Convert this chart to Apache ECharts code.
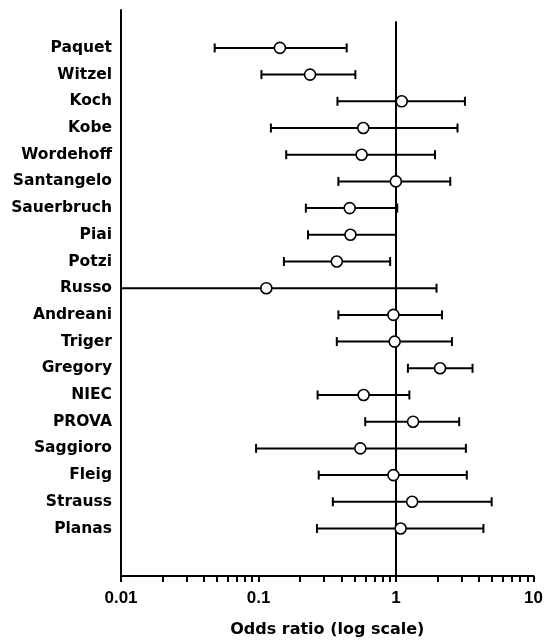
<!DOCTYPE html>
<html>
<head>
<meta charset="utf-8">
<script src="https://cdn.jsdelivr.net/npm/echarts@6/dist/echarts.min.js"></script>
<style>html,body{margin:0;padding:0;background:#fff}#c{width:546px;height:643px}</style>
</head>
<body>
<div id="c"></div>
<script>
var studies = ['Paquet','Witzel','Koch','Kobe','Wordehoff','Santangelo','Sauerbruch','Piai','Potzi','Russo','Andreani','Triger','Gregory','NIEC','PROVA','Saggioro','Fleig','Strauss','Planas'];
var oddsRatio = [0.143,0.237,1.10,0.578,0.562,0.997,0.460,0.466,0.371,0.114,0.957,0.977,2.09,0.581,1.33,0.550,0.957,1.31,1.08];
var ciLow     = [0.048,0.105,0.375,0.123,0.159,0.381,0.221,0.229,0.153,0.008,0.381,0.371,1.22,0.269,0.597,0.096,0.274,0.347,0.266];
var ciHigh    = [0.438,0.506,3.17,2.80,1.92,2.48,1.02,1.00,0.906,1.97,2.16,2.55,3.60,1.25,2.88,3.22,3.27,4.96,4.32];
var xTickLabels = ['0.01','0.1','1','10'];
var minorTickValues = [0.01,0.02,0.03,0.04,0.05,0.06,0.07,0.08,0.09,0.1,0.2,0.3,0.4,0.5,0.6,0.7,0.8,0.9,1,2,3,4,5,6,7,8,9,10];

var n = studies.length;
var yMin = -0.78, yMax = 20.42;
function rowY(i){ return n - i; }

var barData = studies.map(function(s,i){ return [ciLow[i], ciHigh[i], rowY(i)]; });
var pointData = studies.map(function(s,i){ return [oddsRatio[i], rowY(i)]; });
var rowVals = studies.map(function(s,i){ return rowY(i); });

var chart = echarts.init(document.getElementById('c'));
chart.setOption({
  animation: false,
  backgroundColor: '#fff',
  grid: { left: 121, right: 10, top: 10, bottom: 59 },
  xAxis: [{
    type: 'log', logBase: 10, min: 0.01, max: 10,
    position: 'bottom',
    name: 'Odds ratio (log scale)', nameLocation: 'middle', nameGap: 46,
    nameTextStyle: { fontFamily: 'DejaVu Sans', fontWeight: 'bold', fontSize: 16, color: '#000' },
    axisLine: { show: true, onZero: false, lineStyle: { color: '#000', width: 2 } },
    axisTick: { show: false },
    splitLine: { show: false },
    minorTick: { show: false },
    axisLabel: {
      margin: 14, color: '#000', fontFamily: 'Liberation Sans', fontWeight: 'bold', fontSize: 17,
      formatter: function(v){
        var k = Math.round(Math.log10(v)) + 2;
        return xTickLabels[k] !== undefined ? xTickLabels[k] : '';
      }
    }
  }, {
    type: 'value', min: -2, max: 1, position: 'bottom', show: true,
    axisLine: { show: false, onZero: false },
    axisLabel: { show: false },
    splitLine: { show: false },
    axisTick: {
      show: true, inside: false, length: 6,
      lineStyle: { color: '#000', width: 2 },
      customValues: minorTickValues.map(function(v){ return Math.log10(v); })
    }
  }],
  yAxis: {
    type: 'value', min: yMin, max: yMax,
    axisLine: { show: true, onZero: false, lineStyle: { color: '#000', width: 2 } },
    axisTick: { show: false },
    splitLine: { show: false },
    axisLabel: {
      customValues: rowVals,
      margin: 9, color: '#000', fontFamily: 'DejaVu Sans', fontWeight: 'bold', fontSize: 15.5,
      formatter: function(v){ var i = n - Math.round(v); return studies[i] || ''; }
    }
  },
  series: [{
    type: 'custom',
    xAxisIndex: 0,
    clip: true,
    data: barData,
    encode: { x: [0, 1], y: 2 },
    renderItem: function(params, api){
      var y = api.value(2);
      var p1 = api.coord([api.value(0), y]);
      var p2 = api.coord([api.value(1), y]);
      var h = 4.5;
      var st = { stroke: '#000', lineWidth: 2 };
      return { type: 'group', children: [
        { type: 'line', shape: { x1: p1[0], y1: p1[1], x2: p2[0], y2: p2[1] }, style: st },
        { type: 'line', shape: { x1: p1[0], y1: p1[1]-h, x2: p1[0], y2: p1[1]+h }, style: st },
        { type: 'line', shape: { x1: p2[0], y1: p2[1]-h, x2: p2[0], y2: p2[1]+h }, style: st }
      ]};
    },
    markLine: {
      silent: true, symbol: 'none', label: { show: false },
      lineStyle: { color: '#000', width: 2, type: 'solid' },
      data: [[{ coord: [1, 20] }, { coord: [1, yMin] }]]
    },
    z: 2
  }, {
    type: 'scatter',
    xAxisIndex: 0,
    data: pointData,
    symbol: 'circle', symbolSize: 11,
    itemStyle: { color: '#fff', borderColor: '#000', borderWidth: 1.6, opacity: 1 },
    z: 5
  }]
});
</script>
</body>
</html>
